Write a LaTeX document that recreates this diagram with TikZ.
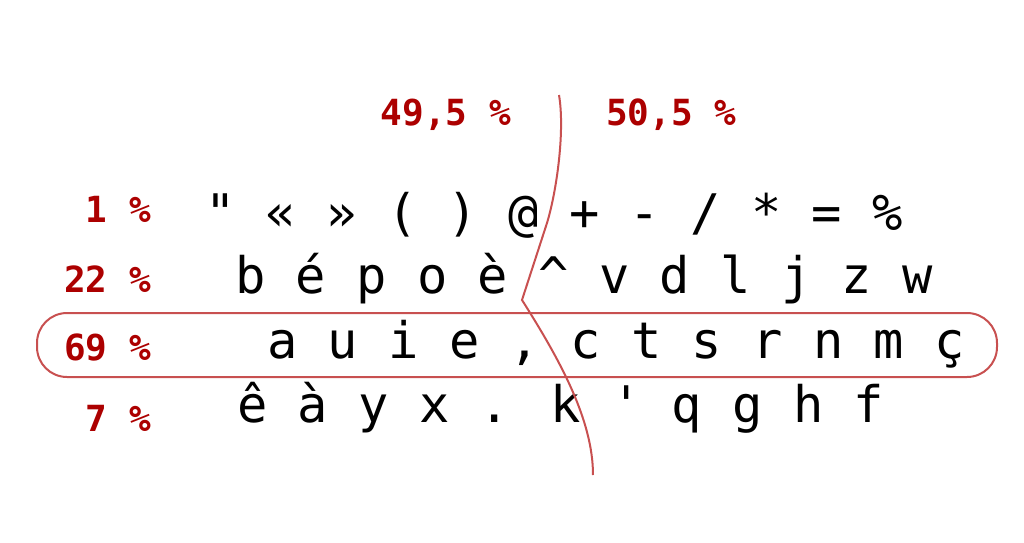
\documentclass[tikz,border=0pt]{standalone}
\usepackage{fontspec}
\newfontfamily\keyfont{DejaVu Sans Mono}
\newfontfamily\labfont{DejaVu Sans Mono}[BoldFont={DejaVu Sans Mono Bold}]
\definecolor{labred}{RGB}{172,0,0}
\definecolor{linered}{RGB}{200,80,80}
\begin{document}
\begin{tikzpicture}[x=0.5pt,y=-0.5pt,
  keys/.style={inner sep=0pt,outer sep=0pt,anchor=base west,font=\keyfont\fontsize{25.2}{30}\selectfont,text=black},
  pct/.style={inner sep=0pt,outer sep=0pt,font=\labfont\bfseries\fontsize{18}{22}\selectfont,text=labred},
  redline/.style={draw=linered,line width=1pt}]
\useasboundingbox (0,0) rectangle (1024,542);
% percentage labels
\node[pct,anchor=base east] (lh) at (511,125) {49,5 \%};
\node[pct,anchor=base west] (rh) at (606,125) {50,5 \%};
\node[pct,anchor=base east] (p1) at (151,222) {1 \%};
\node[pct,anchor=base east] (p2) at (151,292) {22 \%};
\node[pct,anchor=base east] (p3) at (151,360) {69 \%};
\node[pct,anchor=base east] (p4) at (151,431) {7 \%};
% home row frame
\draw[redline,rounded corners=15pt] (37,313) rectangle (997,377);
% key rows
\node[keys] (r1) at (205,230) {" « » ( ) @ + - / * = \%};
\node[keys] (r2) at (235,293) {b é p o è \textasciicircum{} v d l j z w};
\node[keys] (r3) at (267,358) {a u i e , c t s r n m ç};
\node[keys] (r4) at (237,422) {ê à y x . k ' q g h f};
% hand separation
\coordinate (top) at (559,95);
\coordinate (knee) at (522,300);
\coordinate (bot) at (593,475);
\draw[redline,line join=miter] (top) .. controls (565,130) and (557,190) .. (547,223) -- (knee)
  .. controls (560,360) and (593,420) .. (bot);
\end{tikzpicture}
\end{document}
